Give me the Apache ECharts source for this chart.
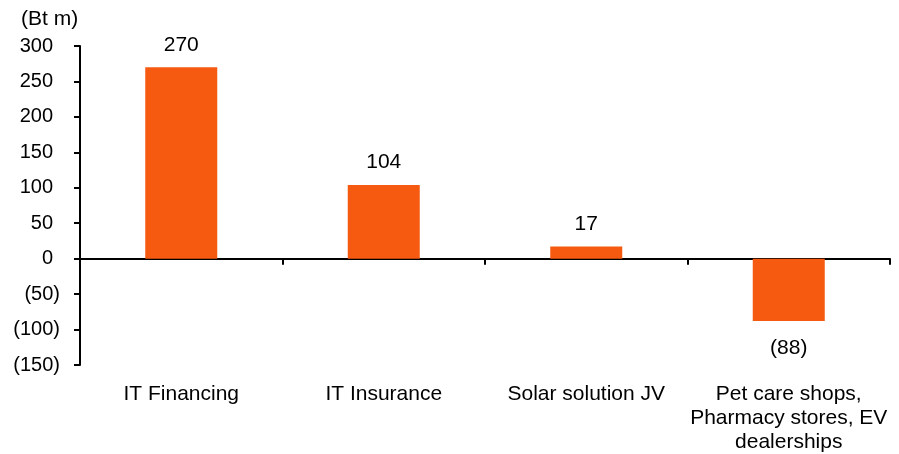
<!DOCTYPE html>
<html>
<head>
<meta charset="utf-8">
<script src="https://cdn.jsdelivr.net/npm/echarts@6/dist/echarts.min.js"></script>
<style>
  html, body { margin: 0; padding: 0; background: #fff; }
  #chart { width: 899px; height: 454px; }
</style>
</head>
<body>
<div id="chart"></div>
<script>
  var categories = ['IT Financing', 'IT Insurance', 'Solar solution JV', 'Pet care shops,\nPharmacy stores, EV\ndealerships'];
  var values = [270, 104, 17, -88];
  var yTicks = { min: -150, max: 300, step: 50 };
  var unitLabel = '(Bt m)';

  var font = "'Liberation Sans', Arial, sans-serif";

  function fmt(v) {
    return v < 0 ? '(' + (-v) + ')' : String(v);
  }

  var chart = echarts.init(document.getElementById('chart'));
  var option = {
    animation: false,
    backgroundColor: '#fff',
    title: {
      text: unitLabel,
      left: 16,
      top: 4,
      textStyle: { fontFamily: font, fontSize: 21, fontWeight: 'normal', color: '#000' }
    },
    grid: { left: 80, right: 9, top: 46, bottom: 84, containLabel: false },
    xAxis: [
      {
        type: 'category',
        data: categories,
        axisLine: { onZero: true, lineStyle: { color: '#000', width: 2 } },
        axisTick: { show: true, length: 6, inside: false, lineStyle: { color: '#000', width: 2 } },
        axisLabel: { show: false },
        splitLine: { show: false }
      },
      {
        type: 'category',
        data: categories,
        position: 'bottom',
        axisLine: { show: false, onZero: false },
        axisTick: { show: false },
        axisLabel: {
          margin: 17,
          interval: 0,
          color: '#000',
          fontFamily: font,
          fontSize: 21,
          lineHeight: 24
        },
        splitLine: { show: false }
      }
    ],
    yAxis: {
      type: 'value',
      min: yTicks.min,
      max: yTicks.max,
      interval: yTicks.step,
      axisLine: { show: true, lineStyle: { color: '#000', width: 2 } },
      axisTick: { show: true, length: 6, lineStyle: { color: '#000', width: 2 } },
      splitLine: { show: false },
      axisLabel: {
        margin: 20,
        color: '#000',
        fontFamily: font,
        fontSize: 20,
        formatter: function (v) {
          return v < 0 ? fmt(v) : '{p|' + v + '}';
        },
        rich: {
          p: { fontFamily: font, fontSize: 20, color: '#000', padding: [0, 7, 0, 0] }
        }
      }
    },
    series: [
      {
        type: 'bar',
        xAxisIndex: 0,
        barWidth: 72,
        itemStyle: { color: '#F55A10' },
        label: {
          show: true,
          fontFamily: font,
          fontSize: 21,
          color: '#000',
          distance: 12,
          formatter: function (p) { return fmt(p.value); },
          position: 'top'
        },
        // negative bars get the label underneath
        data: values.map(function (v) {
          return v < 0 ? { value: v, label: { position: 'bottom', distance: 17 } } : v;
        })
      }
    ]
  };
  chart.setOption(option);
</script>
</body>
</html>
